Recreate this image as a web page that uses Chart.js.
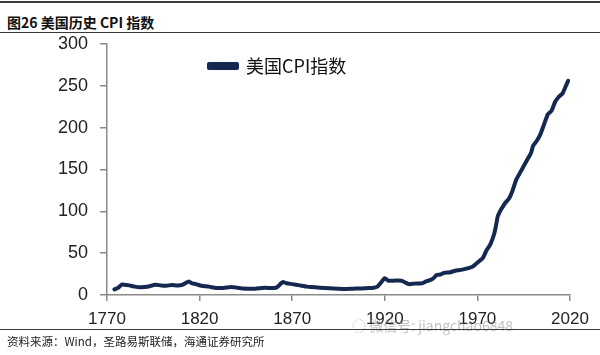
<!DOCTYPE html>
<html>
<head>
<meta charset="utf-8">
<script src="https://cdn.jsdelivr.net/npm/chart.js@4"></script>
<style>
  body { margin: 0; background: #fff; }
  #wrap { position: relative; width: 600px; height: 355px; overflow: hidden; background: #fff; }
  #chart { position: absolute; left: 0; top: 0; }
  .rule { position: absolute; left: 0; width: 600px; background: #3a3a3a; }
  #title { position: absolute; left: 7px; top: 12px; font: bold 14px "Noto Sans CJK SC", sans-serif; color: #111; }
  #source { position: absolute; left: 7px; top: 333px; font: 11.5px "Noto Sans CJK SC", sans-serif; color: #222; }
  #mark { position: absolute; left: 352px; top: 315px; font: 14px "Noto Sans CJK SC", sans-serif; color: rgba(140,140,140,0.55); }
</style>
</head>
<body>
<div id="wrap">
  <div class="rule" style="top:1px;height:2px"></div>
  <div id="title">图26 美国历史 CPI 指数</div>
  <div class="rule" style="top:32px;height:1px"></div>
  <canvas id="chart" width="600" height="355"></canvas>
  <div id="mark">◌ 微信号: jiangchao6848</div>
  <div class="rule" style="top:329px;height:1px"></div>
  <div id="source">资料来源：Wind，圣路易斯联储，海通证券研究所</div>
</div>
<script>
const seriesName = "美国CPI指数";

const years = [
  1774, 1776, 1778, 1780, 1782, 1785, 1788, 1790, 1793, 1796, 1799,
  1802, 1805, 1808, 1811, 1814, 1816, 1818, 1821, 1825, 1829, 1833,
  1837, 1840, 1843, 1847, 1850, 1855, 1860, 1862, 1864, 1865, 1867,
  1870, 1874, 1878, 1880, 1885, 1890, 1895, 1899, 1903, 1907, 1910,
  1914, 1916, 1918, 1920, 1922, 1926, 1929, 1931, 1933, 1936, 1940,
  1942, 1944, 1946, 1948, 1950, 1952, 1955, 1958, 1961, 1964, 1967,
  1969, 1971, 1973, 1975, 1977, 1979, 1980, 1981, 1982, 1983, 1985,
  1987, 1989, 1991, 1993, 1995, 1997, 1999, 2000, 2002, 2004, 2006,
  2008, 2009, 2010, 2012, 2014, 2016, 2018, 2019
];

const cpi = [
  6.8, 8.5, 12.5, 12.0, 11.5, 10.0, 9.2, 9.5, 10.5, 12.3, 11.5,
  11.0, 12.0, 11.5, 12.5, 16.0, 14.0, 13.0, 11.0, 10.0, 8.3, 8.5,
  9.5, 8.8, 7.8, 7.6, 7.6, 8.6, 8.3, 9.5, 14.0, 15.5, 14.0,
  13.0, 11.5, 10.0, 9.5, 8.8, 8.2, 7.6, 7.3, 7.6, 7.8, 8.2,
  8.7, 10.0, 15.0, 20.0, 17.0, 17.2, 17.0, 15.0, 13.0, 13.6, 14.0,
  16.0, 17.6, 19.5, 24.0, 24.5, 26.5, 27.0, 29.0, 30.0, 31.5, 33.5,
  36.7, 40.5, 44.4, 53.8, 60.6, 72.6, 82.4, 94.0, 99.0, 103.0, 110.0,
  115.0, 125.0, 138.0, 146.0, 154.0, 162.0, 170.0, 178.0, 184.0, 192.0, 204.0,
  216.0, 218.0, 220.0, 231.0, 237.0, 241.0, 251.0, 256.0
];

const xTicks = [1770, 1820, 1870, 1920, 1970, 2020];
const yTicks = [0, 50, 100, 150, 200, 250, 300];

// move the legend inside the plot without taking layout space
const legendInside = {
    id: "legendInside",
    afterInit(chart){
        const legend = chart.legend;
        const fit = legend.fit;
        legend.fit = function(){
            fit.call(this);
            this._realHeight = this.height;
            this.height = 0;
        };
    },
    afterLayout(chart){
        const l = chart.legend;
        l.left = 199;
        l.width = 220;
        l.right = l.left + l.width;
        l.top = 47;
        l.height = l._realHeight || 42;
        l.bottom = l.top + l.height;
    }
};

const axisColor = "#8a8a8a";
const tickFont = { family: "'Liberation Sans', Arial, sans-serif", size: 17 };

new Chart(document.getElementById("chart"), {
    type: "line",
    data: {
        datasets: [{
            label: seriesName,
            data: years.map((y, i) => ({ x: y, y: cpi[i] })),
            borderColor: "#142850",
            backgroundColor: "#142850",
            borderWidth: 4,
            borderCapStyle: "round",
            borderJoinStyle: "round",
            pointRadius: 0,
            tension: 0.2,
            fill: false
        }]
    },
    options: {
        responsive: false,
        animation: false,
        layout: { padding: { top: 44, right: 30, left: 0, bottom: 0 } },
        scales: {
            x: {
                type: "linear",
                min: 1770,
                max: 2020,
                afterBuildTicks: s => { s.ticks = xTicks.map(v => ({ value: v })); },
                afterFit: s => { s.height = 60; },
                border: { display: true, color: axisColor, width: 1.5 },
                grid: { display: true, drawOnChartArea: false, drawTicks: true, tickLength: 6, color: axisColor, lineWidth: 1.5 },
                ticks: { color: "#222", font: tickFont, padding: 8, maxRotation: 0, callback: v => String(v) }
            },
            y: {
                min: 0,
                max: 300,
                afterBuildTicks: s => { s.ticks = yTicks.map(v => ({ value: v })); },
                afterFit: s => { s.width = 107; },
                border: { display: true, color: axisColor, width: 1.5 },
                grid: { display: true, drawOnChartArea: false, drawTicks: true, tickLength: 7, color: axisColor, lineWidth: 1.5 },
                ticks: { color: "#222", font: { family: tickFont.family, size: 18 }, padding: 12, callback: v => String(v) }
            }
        },
        plugins: {
            title: { display: false },
            tooltip: { enabled: false },
            legend: {
                display: true,
                position: "top",
                align: "start",
                labels: {
                    color: "#111",
                    boxWidth: 28,
                    boxHeight: 4,
                    padding: 10,
                    font: { family: "'Noto Sans CJK SC', sans-serif", size: 18 }
                }
            }
        }
    },
    plugins: [legendInside]
});
</script>
</body>
</html>
